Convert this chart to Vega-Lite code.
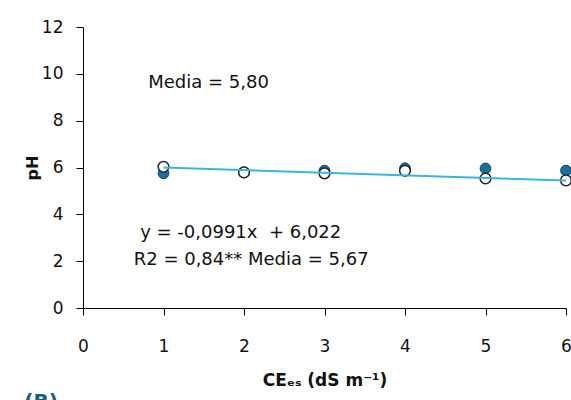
{
  "$schema": "https://vega.github.io/schema/vega-lite/v6.json",
  "autosize": {"type": "none"},
  "padding": {"left": 83, "top": 27, "right": 5, "bottom": 92},
  "width": 483,
  "height": 281,
  "background": "white",
  "config": {
    "view": {"stroke": null},
    "font": "DejaVu Sans",
    "axis": {"grid": false, "domainColor": "#000", "tickColor": "#000", "labelColor": "#111", "titleColor": "#111", "labelFont": "DejaVu Sans", "titleFont": "DejaVu Sans"}
  },
  "title": {"text": "(B)", "orient": "bottom", "anchor": "start", "frame": "bounds", "color": "#1b5e84", "fontSize": 20, "fontWeight": "bold", "offset": 4},
  "datasets": {
    "points": [
      {"ce": 1, "ph": 5.75, "serie": "A"},
      {"ce": 2, "ph": 5.79, "serie": "A"},
      {"ce": 3, "ph": 5.87, "serie": "A"},
      {"ce": 4, "ph": 5.97, "serie": "A"},
      {"ce": 5, "ph": 5.96, "serie": "A"},
      {"ce": 6, "ph": 5.87, "serie": "A"},
      {"ce": 1, "ph": 6.03, "serie": "B"},
      {"ce": 2, "ph": 5.79, "serie": "B"},
      {"ce": 3, "ph": 5.75, "serie": "B"},
      {"ce": 4, "ph": 5.86, "serie": "B"},
      {"ce": 5, "ph": 5.53, "serie": "B"},
      {"ce": 6, "ph": 5.45, "serie": "B"}
    ],
    "trend": [
      {"ce": 1, "ph": 6.0},
      {"ce": 6, "ph": 5.44}
    ],
    "notes": [
      {"ce": 0.81, "ph": 9.62, "label": "Media = 5,80"},
      {"ce": 0.71, "ph": 3.22, "label": "y = -0,0991x\u00a0 + 6,022"},
      {"ce": 0.63, "ph": 2.07, "label": "R2 = 0,84** Media = 5,67"}
    ]
  },
  "layer": [
    {
      "data": {"name": "points"},
      "transform": [{"filter": "datum.serie === 'A'"}],
      "mark": {"type": "point", "filled": true, "shape": "circle", "size": 115, "color": "#19709a", "stroke": "#0d4560", "strokeWidth": 1, "opacity": 1},
      "encoding": {
        "x": {
          "field": "ce", "type": "quantitative",
          "scale": {"domain": [0, 6], "nice": false, "zero": false},
          "axis": {"values": [0, 1, 2, 3, 4, 5, 6], "format": "d", "tickSize": 7, "labelPadding": 23, "labelFontSize": 17, "labelFlush": false, "title": "CEₑₛ (dS m⁻¹)", "titleFontSize": 17, "titleFontWeight": "bold", "titlePadding": 18}
        },
        "y": {
          "field": "ph", "type": "quantitative",
          "scale": {"domain": [0, 12], "nice": false},
          "axis": {"values": [0, 2, 4, 6, 8, 10, 12], "format": "d", "tickSize": 7, "labelPadding": 13, "labelFontSize": 17, "title": "pH", "titleFontSize": 16, "titleFontWeight": "bold", "titlePadding": 1}
        }
      }
    },
    {
      "data": {"name": "points"},
      "transform": [{"filter": "datum.serie === 'B'"}],
      "mark": {"type": "point", "filled": false, "shape": "circle", "size": 115, "fill": "white", "fillOpacity": 1, "stroke": "#222", "strokeWidth": 1.5, "opacity": 1},
      "encoding": {
        "x": {"field": "ce", "type": "quantitative"},
        "y": {"field": "ph", "type": "quantitative"}
      }
    },
    {
      "data": {"name": "trend"},
      "mark": {"type": "line", "color": "#3bb3e0", "strokeWidth": 2},
      "encoding": {
        "x": {"field": "ce", "type": "quantitative"},
        "y": {"field": "ph", "type": "quantitative"}
      }
    },
    {
      "data": {"name": "notes"},
      "mark": {"type": "text", "align": "left", "baseline": "middle", "fontSize": 18, "color": "#111", "font": "DejaVu Sans"},
      "encoding": {
        "x": {"field": "ce", "type": "quantitative"},
        "y": {"field": "ph", "type": "quantitative"},
        "text": {"field": "label"}
      }
    }
  ]
}
